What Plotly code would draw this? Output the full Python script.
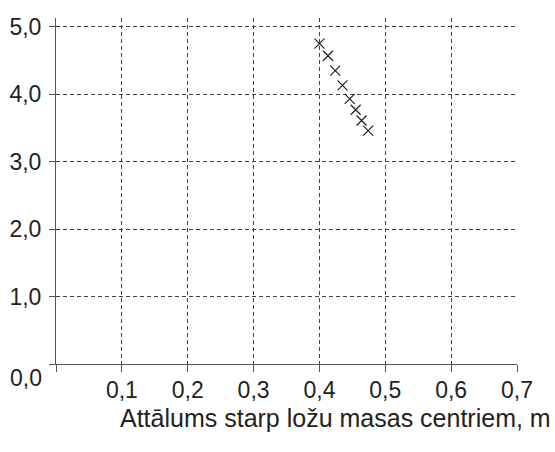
import plotly.graph_objects as go

# Data
distance_m = [0.400, 0.413, 0.424, 0.435, 0.446, 0.455, 0.464, 0.474]
force_vals = [4.75, 4.57, 4.35, 4.13, 3.93, 3.77, 3.61, 3.46]

x_tickvals = [0, 0.1, 0.2, 0.3, 0.4, 0.5, 0.6, 0.7]
x_ticktext = ["", "0,1", "0,2", "0,3", "0,4", "0,5", "0,6", "0,7"]
y_tickvals = [0, 1, 2, 3, 4, 5]
y_ticktext = ["", "1,0", "2,0", "3,0", "4,0", "5,0"]
x_title = "Attālums starp ložu masas centriem, m"
origin_label = "0,0"

W, H = 555, 452
L, R, T, B = 56, 38, 18, 88

font_family = "Liberation Sans, Arial, sans-serif"
txt_color = "#231f20"
grid_color = "#444444"

fig = go.Figure()
fig.add_trace(go.Scatter(
    x=distance_m, y=force_vals, mode="markers",
    marker=dict(symbol="x-thin", size=10, color="#231f20",
                line=dict(width=1.2, color="#231f20")),
    showlegend=False, hoverinfo="skip", cliponaxis=False,
))

fig.update_layout(
    width=W, height=H,
    margin=dict(l=L, r=R, t=T, b=B, autoexpand=False),
    paper_bgcolor="white", plot_bgcolor="white",
    font=dict(family=font_family, size=23, color=txt_color),
    xaxis=dict(
        range=[0, 0.7], tickvals=x_tickvals, ticktext=x_ticktext,
        showgrid=True, gridcolor=grid_color, gridwidth=1, griddash="4px,3px",
        showline=True, linecolor="#555555", linewidth=1,
        ticks="outside", ticklen=7, tickcolor="#555555",
        zeroline=False, tickfont=dict(size=23, color=txt_color),
        ticklabelstandoff=-2, automargin=False,
    ),
    yaxis=dict(
        range=[0, 5.13], tickvals=y_tickvals, ticktext=y_ticktext,
        showgrid=True, gridcolor=grid_color, gridwidth=1, griddash="4px,3px",
        showline=True, linecolor="#555555", linewidth=1,
        ticks="outside", ticklen=6, tickcolor="#555555",
        zeroline=False, tickfont=dict(size=23, color=txt_color),
        ticklabelstandoff=3, automargin=False,
    ),
    annotations=[
        dict(text=origin_label, xref="paper", yref="paper",
             x=-(L - 26) / (W - L - R), y=-(378 - (H - B)) / (H - T - B),
             xanchor="center", yanchor="middle", showarrow=False,
             font=dict(size=23, color=txt_color)),
        dict(text=x_title, xref="paper", yref="paper",
             x=(553 - L) / (W - L - R), y=-(418 - (H - B)) / (H - T - B),
             xanchor="right", yanchor="middle", showarrow=False,
             font=dict(size=25, color=txt_color)),
    ],
)

fig.write_html("out.html",
               config={"displayModeBar": False},
               post_script="document.body.style.margin='0';document.body.style.overflow='hidden';")
